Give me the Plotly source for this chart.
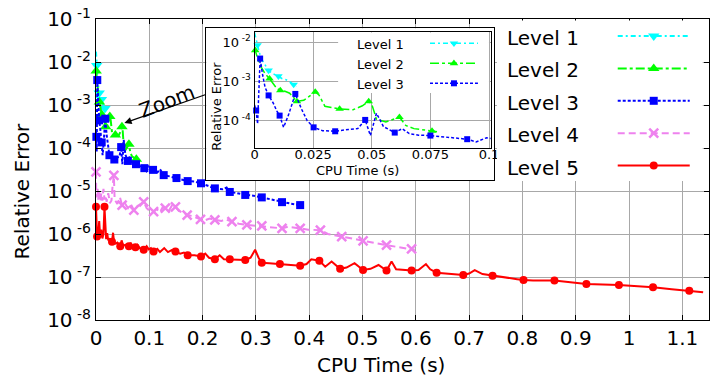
import plotly.graph_objects as go

# ---------------- data: CPU time (s) vs. relative error ----------------
level1_time = [0.0, 0.0006, 0.0013, 0.0022, 0.0032, 0.0045, 0.006, 0.0075,
               0.009, 0.0102, 0.0118, 0.0135, 0.015, 0.0167, 0.0178]
level1_error = [1.74e-2, 1.17e-2, 8.3e-3, 5.0e-3, 3.5e-3, 2.6e-3, 1.9e-3, 1.6e-3,
                1.48e-3, 1.35e-3, 1.17e-3, 1.10e-3, 9.8e-4, 8.3e-4, 7.4e-4]
level1_points = [2, 6, 9, 13]          # samples that carry a point symbol

level2_time = [0.0, 0.0003, 0.0015, 0.003, 0.0045, 0.0064, 0.008, 0.0095, 0.011,
               0.013, 0.015, 0.0181, 0.021, 0.024, 0.0259, 0.0275, 0.030, 0.0363,
               0.042, 0.046, 0.0487, 0.050, 0.052, 0.056, 0.0618, 0.0645, 0.068,
               0.0757, 0.078]
level2_error = [7.08e-3, 6.17e-3, 3.55e-3, 2.24e-3, 1.58e-3, 1.17e-3, 8.9e-4, 6.6e-4,
                5.9e-4, 5.6e-4, 5.0e-4, 3.1e-4, 3.3e-4, 4.5e-4, 5.4e-4, 4.5e-4,
                2.34e-4, 2.0e-4, 1.9e-4, 2.4e-4, 3.1e-4, 2.63e-4, 1.10e-4, 9.3e-5,
                1.23e-4, 7.6e-5, 6.3e-5, 5.5e-5, 5.2e-5]
level2_points = [1, 5, 8, 11, 14, 17, 20, 24, 27]

level3_time = [0.0, 0.0007, 0.0013, 0.0024, 0.0035, 0.0045, 0.006, 0.008, 0.0095,
               0.0107, 0.0124, 0.0145, 0.0174, 0.020, 0.0225, 0.0252, 0.029, 0.0344,
               0.040, 0.044, 0.0472, 0.0494, 0.052, 0.055, 0.0598, 0.063, 0.066,
               0.070, 0.075, 0.082, 0.0907, 0.0945, 0.099, 0.107, 0.115, 0.120,
               0.127, 0.138, 0.151, 0.160, 0.172, 0.185, 0.197, 0.210, 0.223,
               0.238, 0.245, 0.251, 0.265, 0.280, 0.295, 0.311, 0.330, 0.349,
               0.365, 0.383]
level3_error = [2.5e-4, 1.82e-4, 8.3e-5, 3.8e-3, 1.41e-3, 7.1e-4, 4.4e-4, 2.8e-4, 1.78e-4,
                1.35e-4, 6.8e-5, 1.41e-4, 4.8e-4, 2.0e-4, 1.0e-4, 6.8e-5, 5.6e-5, 5.4e-5,
                6.0e-5, 6.3e-5, 1.05e-4, 4.2e-5, 1.55e-4, 7.1e-5, 5.0e-5, 6.3e-5, 4.7e-5,
                4.3e-5, 4.2e-5, 3.8e-5, 3.4e-5, 2.9e-5, 3.7e-5, 3.1e-5, 2.7e-5, 3.2e-5,
                2.34e-5, 2.19e-5, 2.0e-5, 1.91e-5, 1.70e-5, 1.66e-5, 1.51e-5, 1.32e-5,
                1.15e-5, 1.10e-5, 1.20e-5, 9.5e-6, 8.9e-6, 8.1e-6, 7.8e-6, 7.1e-6,
                6.3e-6, 5.5e-6, 5.1e-6, 4.7e-6]
level3_points = [1, 3, 6, 9, 12, 15, 17, 20, 24, 28, 30, 33, 36, 38, 40, 42, 44,
                 47, 49, 51, 53, 55]

level4_time = [0.0, 0.0005, 0.002, 0.003, 0.004, 0.006, 0.008, 0.010, 0.012, 0.014,
               0.016, 0.018, 0.020, 0.023, 0.026, 0.029, 0.031, 0.0335, 0.035, 0.040,
               0.045, 0.049, 0.055, 0.060, 0.065, 0.071, 0.078, 0.084, 0.0895, 0.095,
               0.100, 0.108, 0.114, 0.120, 0.125, 0.130, 0.137, 0.142, 0.149, 0.155,
               0.160, 0.171, 0.180, 0.188, 0.196, 0.205, 0.213, 0.223, 0.235, 0.242,
               0.255, 0.268, 0.283, 0.295, 0.311, 0.325, 0.349, 0.360, 0.383, 0.398,
               0.421, 0.435, 0.461, 0.478, 0.501, 0.520, 0.545, 0.565, 0.592, 0.598]
level4_error = [2.8e-5, 7.1e-6, 8.9e-6, 1.12e-5, 6.3e-6, 1.0e-5, 5.6e-6, 8.9e-6, 6.0e-6,
                1.12e-5, 6.3e-6, 7.9e-6, 5.6e-6, 8.9e-6, 5.2e-6, 6.0e-6, 1.26e-5, 2.3e-5,
                6.3e-6, 5.0e-6, 7.1e-6, 4.7e-6, 5.0e-6, 4.0e-6, 5.0e-6, 3.6e-6, 4.5e-6,
                5.0e-6, 5.6e-6, 4.0e-6, 3.5e-6, 3.3e-6, 3.8e-6, 3.2e-6, 4.2e-6, 4.0e-6,
                3.5e-6, 4.5e-6, 4.3e-6, 3.5e-6, 3.2e-6, 2.75e-6, 2.63e-6, 2.4e-6,
                2.19e-6, 2.09e-6, 2.29e-6, 2.14e-6, 2.0e-6, 2.19e-6, 1.95e-6, 1.74e-6,
                1.62e-6, 1.58e-6, 1.55e-6, 1.45e-6, 1.35e-6, 1.48e-6, 1.35e-6, 1.26e-6,
                1.23e-6, 1.0e-6, 8.7e-7, 7.9e-7, 6.9e-7, 6.3e-7, 5.5e-7, 5.0e-7, 4.5e-7,
                4.3e-7]
level4_points = [0, 17, 21, 25, 28, 31, 35, 38, 41, 44, 47, 50, 52, 54, 56, 58, 60,
                 62, 64, 66, 68]

level5_time = [0.0, 0.001, 0.002, 0.004, 0.006, 0.008, 0.010, 0.012, 0.014, 0.0159,
               0.0175, 0.019, 0.021, 0.023, 0.026, 0.028, 0.030, 0.032, 0.034, 0.037,
               0.040, 0.043, 0.0455, 0.048, 0.051, 0.055, 0.058, 0.0617, 0.065, 0.069,
               0.074, 0.078, 0.082, 0.0895, 0.095, 0.099, 0.103, 0.108, 0.115, 0.120,
               0.128, 0.135, 0.142, 0.149, 0.158, 0.165, 0.172, 0.185, 0.197, 0.205,
               0.212, 0.223, 0.232, 0.240, 0.251, 0.265, 0.280, 0.290, 0.2985, 0.305,
               0.311, 0.325, 0.345, 0.360, 0.383, 0.395, 0.404, 0.419, 0.430, 0.442,
               0.458, 0.470, 0.485, 0.501, 0.515, 0.530, 0.545, 0.5545, 0.563, 0.592,
               0.605, 0.619, 0.627, 0.639, 0.660, 0.689, 0.700, 0.7105, 0.725, 0.744,
               0.770, 0.790, 0.802, 0.820, 0.860, 0.880, 0.920, 0.981, 1.010, 1.045,
               1.080, 1.113, 1.139]
level5_error = [4.3e-6, 1.0e-6, 8.7e-7, 8.9e-7, 2.0e-6, 8.3e-7, 1.26e-6, 7.9e-7, 1.0e-6,
                4.3e-6, 8.9e-7, 7.6e-7, 1.05e-6, 7.1e-7, 7.9e-7, 6.3e-7, 6.6e-7, 1.07e-6,
                6.3e-7, 6.0e-7, 6.3e-7, 5.5e-7, 5.2e-7, 7.1e-7, 5.4e-7, 5.6e-7, 5.0e-7,
                5.2e-7, 6.3e-7, 5.0e-7, 4.9e-7, 5.6e-7, 4.7e-7, 4.3e-7, 5.2e-7, 4.4e-7,
                4.7e-7, 3.9e-7, 4.5e-7, 3.8e-7, 4.7e-7, 3.8e-7, 4.2e-7, 3.9e-7, 3.5e-7,
                3.7e-7, 3.2e-7, 3.2e-7, 3.0e-7, 3.5e-7, 2.8e-7, 2.6e-7, 3.2e-7, 2.6e-7,
                2.57e-7, 2.5e-7, 2.5e-7, 2.8e-7, 4.3e-7, 2.8e-7, 2.14e-7, 2.1e-7, 2.0e-7,
                1.9e-7, 1.82e-7, 2.0e-7, 2.57e-7, 2.4e-7, 1.74e-7, 2.29e-7, 1.55e-7,
                1.66e-7, 2.1e-7, 1.45e-7, 1.55e-7, 1.9e-7, 1.41e-7, 2.29e-7, 1.51e-7,
                1.41e-7, 1.45e-7, 2.0e-7, 1.51e-7, 1.26e-7, 1.2e-7, 1.12e-7, 1.2e-7,
                1.45e-7, 1.17e-7, 1.07e-7, 9.5e-8, 8.9e-8, 8.5e-8, 8.3e-8, 8.3e-8,
                7.8e-8, 6.9e-8, 6.5e-8, 6.2e-8, 5.8e-8, 5.2e-8, 4.8e-8, 4.4e-8]
level5_points = [0, 2, 9, 16, 22, 27, 30, 33, 37, 43, 46, 48, 51, 54, 56, 60, 62,
                 64, 67, 70, 73, 76, 79, 83, 85, 89, 92, 94, 96, 97, 99, 101]

level_names = ["Level 1", "Level 2", "Level 3", "Level 4", "Level 5"]

main_x_range = [0, 1.15]
main_y_ticks = [1e-8, 1e-7, 1e-6, 1e-5, 1e-4, 1e-3, 1e-2, 1e-1]
main_y_labels = ["10<sup> -8</sup>", "10<sup> -7</sup>", "10<sup> -6</sup>",
                 "10<sup> -5</sup>", "10<sup> -4</sup>", "10<sup> -3</sup>",
                 "10<sup> -2</sup>", "10<sup> -1</sup>"]
inset_x_ticks = [0, 0.025, 0.05, 0.075, 0.1]
inset_x_labels = ["0", "0.025", "0.05", "0.075", "0.1"]
inset_x_range = [0, 0.1007]
inset_y_ticks = [1e-4, 1e-3, 1e-2]
inset_y_labels = ["10<sup> -4</sup>", "10<sup> -3</sup>", "10<sup> -2</sup>"]

levels = [
    (level1_time, level1_error, level1_points),
    (level2_time, level2_error, level2_points),
    (level3_time, level3_error, level3_points),
    (level4_time, level4_error, level4_points),
    (level5_time, level5_error, level5_points),
]

# ---------------- styling ----------------
FONT = "DejaVu Sans"
GRID = "#a8a8a8"
styles = [
    dict(color="#00ffff", dash="5px,3px,2px,3px", symbol="triangle-down", size=10, lw=0),
    dict(color="#00ff00", dash="9px,3px,3px,3px", symbol="triangle-up", size=10, lw=0),
    dict(color="#0000ff", dash="3px,2px", symbol="square", size=8, lw=0),
    dict(color="#ee82ee", dash="7px,4px", symbol="x-thin", size=9, lw=2.5),
    dict(color="#ff0000", dash="solid", symbol="circle", size=8, lw=0),
]

# pixel geometry of the main plotting area (712 x 382 canvas)
W, H = 712, 382
L, R, T, B = 95.6, 709.3, 19.0, 320.0


def xdom(a, b):
    return [(a - L) / (R - L), (b - L) / (R - L)]


def ydom(top, bottom):
    return [(B - bottom) / (B - T), (B - top) / (B - T)]


def px_x(px):
    return (px - L) / (R - L)


def px_y(py):
    return (B - py) / (B - T)


def marker(st, scale=1.0):
    return dict(symbol=st["symbol"], size=st["size"] * scale, color=st["color"],
                line=dict(width=st["lw"] * scale, color=st["color"]))


fig = go.Figure()

# ---- main plot: all five levels ----
for (t, e, pts), st in zip(levels, styles):
    fig.add_trace(go.Scatter(x=t, y=e, mode="lines",
                             line=dict(color=st["color"], width=2, dash=st["dash"]),
                             xaxis="x", yaxis="y", hoverinfo="skip"))
    fig.add_trace(go.Scatter(x=[t[k] for k in pts], y=[e[k] for k in pts],
                             mode="markers", marker=marker(st), cliponaxis=False,
                             xaxis="x", yaxis="y", hoverinfo="skip"))

# ---- inset frame (white box holding the zoomed view) ----
fig.add_trace(go.Scatter(x=[None], y=[None], xaxis="x2", yaxis="y2", hoverinfo="skip"))

# ---- inset: first three levels, early times ----
for (t, e, pts), st in list(zip(levels, styles))[:3]:
    fig.add_trace(go.Scatter(x=t, y=e, mode="lines",
                             line=dict(color=st["color"], width=1.5, dash=st["dash"]),
                             xaxis="x3", yaxis="y3", hoverinfo="skip"))
    keep = [k for k in pts if t[k] <= inset_x_range[1]]
    fig.add_trace(go.Scatter(x=[t[k] for k in keep], y=[e[k] for k in keep],
                             mode="markers", marker=marker(st, 0.75), cliponaxis=False,
                             xaxis="x3", yaxis="y3", hoverinfo="skip"))

# ---- key for the main plot (text left, sample right) ----
annotations = []
for i, (name, st) in enumerate(zip(level_names, styles)):
    fig.add_trace(go.Scatter(x=[0.587, 0.937], y=[i, i], mode="lines",
                             line=dict(color=st["color"], width=2, dash=st["dash"]),
                             xaxis="x4", yaxis="y4", hoverinfo="skip"))
    fig.add_trace(go.Scatter(x=[0.762], y=[i], mode="markers", marker=marker(st),
                             cliponaxis=False, xaxis="x4", yaxis="y4", hoverinfo="skip"))
    annotations.append(dict(x=0.039, y=i + 0.06, xref="x4", yref="y4", text=name,
                            showarrow=False, xanchor="left", yanchor="middle",
                            font=dict(size=20, family=FONT, color="black")))

# ---- key for the inset ----
for i, (name, st) in enumerate(list(zip(level_names, styles))[:3]):
    fig.add_trace(go.Scatter(x=[0.609, 0.927], y=[i, i], mode="lines",
                             line=dict(color=st["color"], width=1.5, dash=st["dash"]),
                             xaxis="x5", yaxis="y5", hoverinfo="skip"))
    fig.add_trace(go.Scatter(x=[0.768], y=[i], mode="markers", marker=marker(st, 0.75),
                             cliponaxis=False, xaxis="x5", yaxis="y5", hoverinfo="skip"))
    annotations.append(dict(x=0.1126, y=i + 0.04, xref="x5", yref="y5", text=name,
                            showarrow=False, xanchor="left", yanchor="middle",
                            font=dict(size=13, family=FONT, color="black")))

# ---- axis titles and the "Zoom" callout ----
annotations += [
    dict(x=px_x(22), y=px_y(191), xref="paper", yref="paper", text="Relative Error",
         textangle=-90, showarrow=False, xanchor="center", yanchor="middle",
         font=dict(size=20, family=FONT, color="black")),
    dict(x=px_x(381), y=px_y(365), xref="paper", yref="paper", text="CPU Time (s)",
         showarrow=False, xanchor="center", yanchor="middle",
         font=dict(size=20, family=FONT, color="black")),
    dict(x=px_x(215.5), y=px_y(106), xref="paper", yref="paper", text="Relative Error",
         textangle=-90, showarrow=False, xanchor="center", yanchor="middle",
         font=dict(size=13, family=FONT, color="black")),
    dict(x=px_x(357.5), y=px_y(170.5), xref="paper", yref="paper", text="CPU Time (s)",
         showarrow=False, xanchor="center", yanchor="middle",
         font=dict(size=13, family=FONT, color="black")),
    dict(x=px_x(167), y=px_y(101), xref="paper", yref="paper", text="Zoom",
         textangle=-21, showarrow=False, xanchor="center", yanchor="middle",
         font=dict(size=20, family=FONT, color="black")),
    dict(x=px_x(124), y=px_y(123), xref="paper", yref="paper", text="",
         showarrow=True, ax=83, ay=-29, arrowhead=2, arrowsize=1.2, arrowwidth=1.2,
         arrowcolor="black"),
]

frame = dict(showline=True, linecolor="black", linewidth=1, zeroline=False)
hidden = dict(visible=False, showgrid=False, zeroline=False)

fig.update_layout(
    template="none",
    width=W, height=H,
    margin=dict(l=L, r=W - R, t=T, b=H - B, autoexpand=False),
    paper_bgcolor="white", plot_bgcolor="white",
    showlegend=False, hovermode=False,
    font=dict(family=FONT, color="black"),
    xaxis=dict(domain=[0, 1], anchor="y", range=main_x_range, tick0=0, dtick=0.1,
               showgrid=True, gridcolor=GRID, gridwidth=1.2, mirror="ticks",
               ticks="inside", ticklen=5, tickcolor="black", automargin=False,
               tickfont=dict(size=20, family=FONT, color="black"), **frame),
    yaxis=dict(domain=[0, 1], anchor="x", type="log", range=[-8, -1],
               tickvals=main_y_ticks, ticktext=main_y_labels,
               showgrid=True, gridcolor=GRID, gridwidth=1.2, mirror="ticks",
               ticks="inside", ticklen=5, tickcolor="black", automargin=False,
               tickfont=dict(size=20, family=FONT, color="black"), **frame),
    xaxis2=dict(domain=xdom(206, 494.3), anchor="y2", range=[0, 1], showgrid=False,
                showticklabels=False, ticks="", mirror=True, **frame),
    yaxis2=dict(domain=ydom(28.3, 180), anchor="x2", range=[0, 1], showgrid=False,
                showticklabels=False, ticks="", mirror=True, **frame),
    xaxis3=dict(domain=xdom(254.3, 490.7), anchor="y3", range=inset_x_range,
                tickvals=inset_x_ticks, ticktext=inset_x_labels, showgrid=True,
                gridcolor=GRID, gridwidth=1.2, ticks="", mirror=True, automargin=False,
                ticklabelstandoff=-6,
                tickfont=dict(size=13, family=FONT, color="black"), **frame),
    yaxis3=dict(domain=ydom(31.7, 148.3), anchor="x3", type="log",
                range=[-4.70, -1.738], tickvals=inset_y_ticks, ticktext=inset_y_labels,
                showgrid=True, gridcolor=GRID, gridwidth=1.2, ticks="", mirror=True,
                automargin=False,
                tickfont=dict(size=13, family=FONT, color="black"), **frame),
    xaxis4=dict(domain=xdom(497, 703), anchor="y4", range=[0, 1], **hidden),
    yaxis4=dict(domain=ydom(20.5, 181), anchor="x4", range=[4.475, -0.478], **hidden),
    xaxis5=dict(domain=xdom(338, 489), anchor="y5", range=[0, 1], **hidden),
    yaxis5=dict(domain=ydom(32.5, 93), anchor="x5", range=[2.485, -0.54], **hidden),
    annotations=annotations,
)

fig.write_html("out.html")
